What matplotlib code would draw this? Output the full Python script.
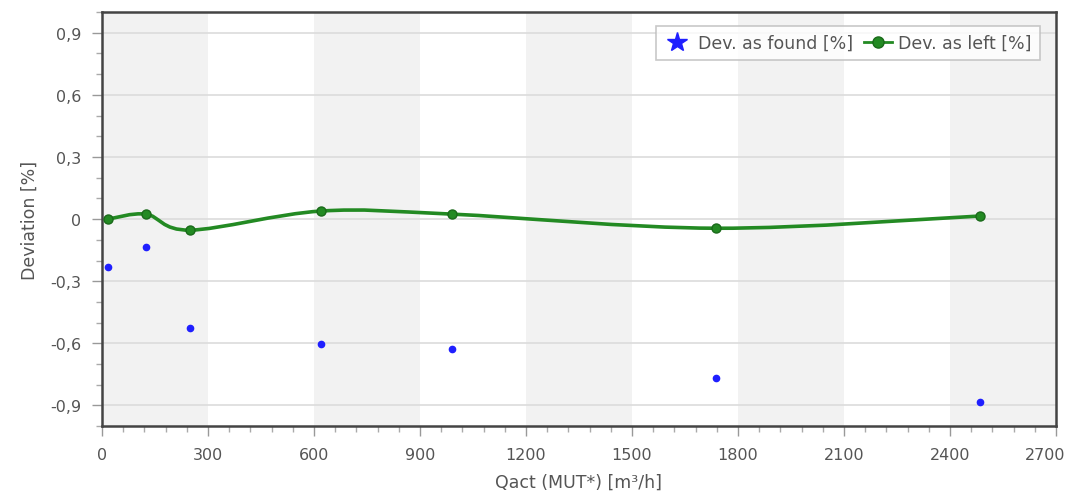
import numpy as np
import matplotlib.pyplot as plt
import matplotlib.transforms as mtransforms
from matplotlib.path import Path
from matplotlib.patches import PathPatch
from matplotlib.lines import Line2D
from matplotlib.ticker import MultipleLocator, FuncFormatter

# data
q_act = [17, 125, 250, 620, 992, 1738, 2485]
dev_found = [-0.232, -0.135, -0.527, -0.605, -0.629, -0.765, -0.885]
dev_left = [0.0, 0.024, -0.053, 0.039, 0.024, -0.044, 0.015]
x_ticks = [0, 300, 600, 900, 1200, 1500, 1800, 2100, 2400, 2700]
y_ticks = [-0.9, -0.6, -0.3, 0, 0.3, 0.6, 0.9]

txt = '#555555'
green = '#238a23'
blue = '#1f1fff'

fig = plt.figure(figsize=(10.71, 5.02), dpi=100)
ax = fig.add_axes([0.0952, 0.149, 0.8908, 0.825])

ax.set_xlim(0, 2700)
ax.set_ylim(-1.0, 1.0)

# alternating grey bands
for i in range(0, len(x_ticks) - 1, 2):
    ax.axvspan(x_ticks[i], x_ticks[i + 1], color='#f2f2f2', zorder=0, lw=0)

for yv in y_ticks:
    ax.axhline(yv, color='#dcdcdc', lw=1.2, zorder=1)

# smooth curve (cardinal spline drawn as bezier segments)
xs = np.array(q_act, dtype=float)
ys = np.array(dev_left, dtype=float)
n = len(xs)
verts = [(xs[0], ys[0])]
codes = [Path.MOVETO]
for i in range(n - 1):
    i0 = max(i - 1, 0)
    i3 = min(i + 2, n - 1)
    t1 = ((xs[i + 1] - xs[i0]) / 2, (ys[i + 1] - ys[i0]) / 2)
    t2 = ((xs[i3] - xs[i]) / 2, (ys[i3] - ys[i]) / 2)
    verts += [(xs[i] + t1[0] / 3, ys[i] + t1[1] / 3),
              (xs[i + 1] - t2[0] / 3, ys[i + 1] - t2[1] / 3),
              (xs[i + 1], ys[i + 1])]
    codes += [Path.CURVE4] * 3
ax.add_patch(PathPatch(Path(verts, codes), fill=False, edgecolor=green, lw=2.6, zorder=3))
ax.plot(q_act, dev_left, 'o', color=green, mec='#1a6a1a', ms=6.5, zorder=4)

ax.plot(q_act, dev_found, 'o', color=blue, ms=4.5, zorder=4, lw=0)

ax.set_xticks(x_ticks)
ax.set_xticklabels([str(v) for v in x_ticks[:-1]] + [''])
ax.xaxis.set_minor_locator(MultipleLocator(60))
ax.yaxis.set_major_locator(MultipleLocator(0.3))
ax.yaxis.set_minor_locator(MultipleLocator(0.1))
ax.yaxis.set_major_formatter(FuncFormatter(lambda v, p: '0' if abs(v) < 1e-9 else ('%.1f' % v).replace('.', ',')))

ax.tick_params(which='major', length=7, width=1, color='#999999', labelcolor=txt, labelsize=11.5, pad=8)
ax.tick_params(which='minor', length=4, width=1, color='#aaaaaa')
for s in ax.spines.values():
    s.set_color('#444444')
    s.set_linewidth(1.8)

# last x label nudged left so it stays inside the picture
trans = mtransforms.offset_copy(ax.get_xaxis_transform(), fig=fig, x=-8, y=-15, units='points')
ax.text(x_ticks[-1], 0, str(x_ticks[-1]), transform=trans, ha='center', va='top',
        color=txt, fontsize=11.5, clip_on=False)

ax.set_xlabel('Qact (MUT*) [m³/h]', color=txt, fontsize=12.5, labelpad=8)
ax.set_ylabel('Deviation [%]', color=txt, fontsize=12.5, labelpad=8)

handles = [Line2D([], [], marker='*', color=blue, ls='none', ms=15),
           Line2D([], [], marker='o', color=green, mec='#1a6a1a', lw=2, ms=8)]
leg = ax.legend(handles, ['Dev. as found [%]', 'Dev. as left [%]'], loc='upper right',
                ncol=2, fontsize=12.5, frameon=True, fancybox=False, handlelength=1.6,
                columnspacing=0.6, handletextpad=0.4, borderpad=0.45, borderaxespad=0,
                bbox_to_anchor=(0.983, 0.966))
leg.get_frame().set_edgecolor('#bbbbbb')
leg.get_frame().set_linewidth(1.2)
for t in leg.get_texts():
    t.set_color(txt)

fig.savefig('out.png', dpi=100)
